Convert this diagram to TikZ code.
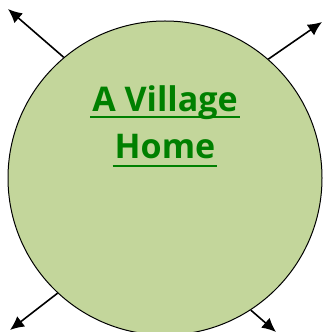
\documentclass[tikz,border=0pt]{standalone}
\usepackage{fontspec}
\setmainfont{Open Sans}
\usetikzlibrary{arrows.meta}
\definecolor{homefill}{HTML}{C3D69B}
\definecolor{titlegreen}{HTML}{008000}
\tikzset{
  title/.style={anchor=base, inner xsep=2pt, inner ysep=0pt, text=titlegreen, font=\bfseries\fontsize{34}{38}\selectfont},
  road/.style={line width=1.6pt, -{Latex[length=14pt,width=13pt]}}
}
\begin{document}
\begin{tikzpicture}[x=1pt,y=1pt]
            \useasboundingbox (0,0) rectangle (325,332);
            \node[circle, draw, line width=1pt, fill=homefill, minimum size=314pt, inner sep=0pt] (home) at (165,154) {};
            \coordinate (tl) at (8,323);
            \coordinate (tr) at (322,310);
            \coordinate (bl) at (10,2);
            \coordinate (br) at (276,0);
            \draw[road] (home.130) -- (tl);
            \draw[road] (home.49) -- (tr);
            \draw[road] (home.227) -- (bl);
            \draw[road] (home.303) -- (br);
            \node[title] (line1) at (165,220) {A Village};
            \node[title] (line2) at (165,173) {Home};
            \draw[titlegreen, line width=2pt] ([yshift=-5pt]line1.base west) -- ([yshift=-5pt]line1.base east);
            \draw[titlegreen, line width=2pt] ([yshift=-7pt]line2.base west) -- ([yshift=-7pt]line2.base east);
        \end{tikzpicture}
\end{document}
